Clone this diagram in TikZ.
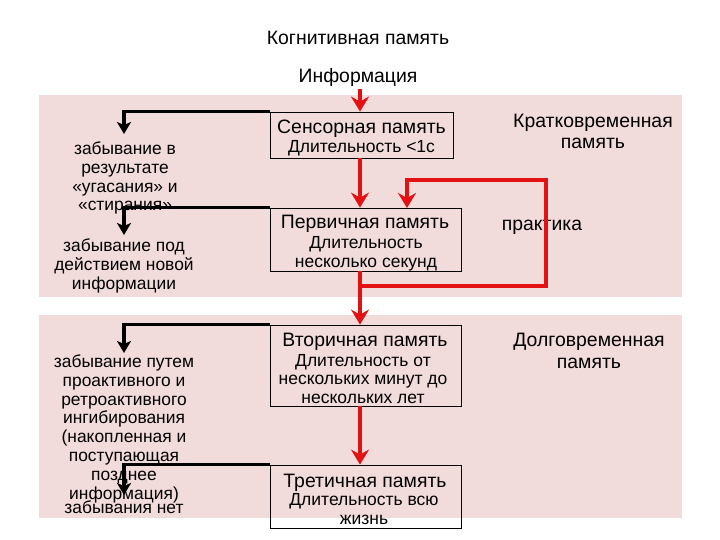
\documentclass[tikz,border=0pt]{standalone}
\usepackage{fontspec}
\setmainfont{Liberation Sans}
\usetikzlibrary{arrows.meta,calc}
\definecolor{bandpink}{RGB}{242,220,219}
\definecolor{arrred}{RGB}{226,18,18}
\begin{document}
\begin{tikzpicture}[x=1pt,y=-1pt,
  box/.style={draw=black, line width=0.8pt, inner sep=0pt},
  ttl/.style={font=\fontsize{19.4}{21.5}\selectfont, align=center, inner sep=0pt, anchor=base},
  sub/.style={font=\fontsize{17.5}{18.5}\selectfont, align=center, inner sep=0pt, anchor=base},
  side/.style={font=\fontsize{17.4}{18.8}\selectfont, align=center, inner sep=0pt, anchor=base},
  redarr/.style={draw=arrred, line width=4pt, -{Stealth[length=15pt,width=18pt,inset=5pt]}},
  blkarr/.style={draw=black, line width=3.5pt, -{Stealth[length=12pt,width=14pt,inset=3pt]}}]
\useasboundingbox (0,0) rectangle (720,540);
\fill[white] (0,0) rectangle (720,540);
\fill[bandpink] (39,95) rectangle (682,297);
\fill[bandpink] (39,315) rectangle (682,518);

% headings
\node[ttl] (kog) at (358,45) {Когнитивная память};
\node[ttl] (info) at (358,83) {Информация};

% boxes
\node[box, minimum width=183, minimum height=46] (sens) at (361.5,135) {};
\node[box, minimum width=191, minimum height=63] (prim) at (365.5,239.5) {};
\node[box, minimum width=191, minimum height=81] (sec) at (365.5,365.5) {};
\node[box, minimum width=191, minimum height=63] (ter) at (365.5,496.5) {};

% box texts (base anchor = baseline of the last line)
\node[ttl] (sensT) at (361.5,134) {Сенсорная память};
\node[sub] (sensS) at (361.5,153) {Длительность <1с};
\node[ttl] (primT) at (365,229) {Первичная память};
\node[sub] (primS) at (366,267) {Длительность\\несколько секунд};
\node[ttl] (secT) at (365,346) {Вторичная память};
\node[sub] (secS) at (363,403) {Длительность от\\нескольких минут до\\нескольких лет};
\node[ttl] (terT) at (365,487) {Третичная память};
\node[sub] (terS) at (364,524) {Длительность всю\\жизнь};

% right texts
\node[ttl] (kratk) at (593,149) {Кратковременная\\память};
\node[ttl] (prak) at (542,230) {практика};
\node[ttl] (dolg) at (589,368) {Долговременная\\память};

% left texts
\node[side] (f1) at (125,211) {забывание в\\результате\\«угасания» и\\«стирания»};
\node[side] (f2) at (124,289) {забывание под\\действием новой\\информации};
\node[side] (f3) at (124,499) {забывание путем\\проактивного и\\ретроактивного\\ингибирования\\(накопленная и\\поступающая\\позднее\\информация)};
\node[side] (f4) at (124,513) {забывания нет};

% coordinates
\coordinate (col) at (360,0);
\coordinate (lp) at (360,286);
\coordinate (rc) at (546,180);
\coordinate (ret) at (407,208);
\coordinate (b1) at (124,134);
\coordinate (b2) at (124,235);
\coordinate (b3) at (124,353);
\coordinate (b4) at (124,495);

% red connectors
\draw[redarr] (col |- info.south) ++(0,2) -- (col |- sens.north);
\draw[redarr] (col |- sens.south) -- (col |- prim.north);
\draw[redarr] (col |- prim.south) -- (col |- sec.north);
\draw[redarr] (col |- sec.south) -- (col |- ter.north);
\draw[redarr] (lp) -| (rc) -| (ret);

% black connectors
\draw[blkarr] (sens.north west) -| (b1);
\draw[blkarr] (prim.north west) -| (b2);
\draw[blkarr] (sec.north west) -| (b3);
\draw[blkarr] (ter.north west) -| (b4);
\end{tikzpicture}
\end{document}
